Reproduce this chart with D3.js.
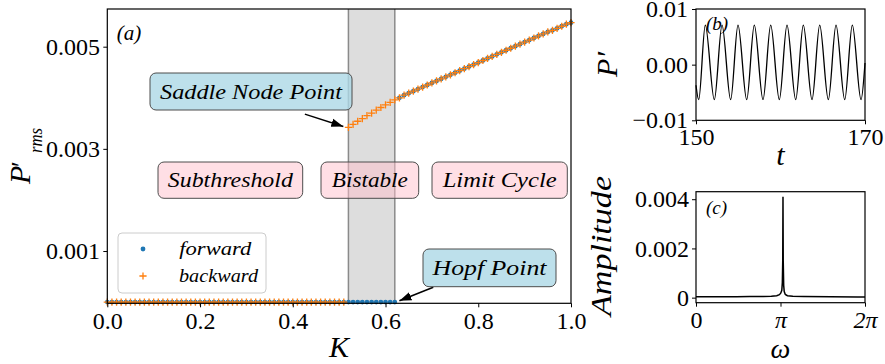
<!DOCTYPE html>
<html><head><meta charset="utf-8">
<script src="https://cdn.jsdelivr.net/npm/d3@7"></script>
<style>
@font-face{font-family:"LSerifX";font-style:normal;font-weight:400;src:local("Liberation Serif"),local("LiberationSerif"),local("LiberationSerif-Regular"),local("Tinos"),local("DejaVu Serif");}
@font-face{font-family:"LSerifX";font-style:italic;font-weight:400;src:local("Liberation Serif Italic"),local("LiberationSerif-Italic"),local("Tinos Italic"),local("DejaVu Serif Italic");}
body{margin:0;background:#fff}
svg{display:block}
svg text{font-family:"Liberation Serif","LSerifX","Tinos","DejaVu Serif",serif;}
</style>
</head><body><svg id="c" width="885" height="364"></svg>
<script>
// ---------------- DATA ----------------
const K = [0.00,0.01,0.02,0.03,0.04,0.05,0.06,0.07,0.08,0.09,0.10,0.11,0.12,0.13,0.14,0.15,0.16,0.17,0.18,0.19,
0.20,0.21,0.22,0.23,0.24,0.25,0.26,0.27,0.28,0.29,0.30,0.31,0.32,0.33,0.34,0.35,0.36,0.37,0.38,0.39,
0.40,0.41,0.42,0.43,0.44,0.45,0.46,0.47,0.48,0.49,0.50,0.51,0.52,0.53,0.54,0.55,0.56,0.57,0.58,0.59,
0.60,0.61,0.62,0.63,0.64,0.65,0.66,0.67,0.68,0.69,0.70,0.71,0.72,0.73,0.74,0.75,0.76,0.77,0.78,0.79,
0.80,0.81,0.82,0.83,0.84,0.85,0.86,0.87,0.88,0.89,0.90,0.91,0.92,0.93,0.94,0.95,0.96,0.97,0.98,0.99,1.00];
// forward sweep: zero up to K=0.62, limit cycle from K=0.63
const forward = [0,0,0,0,0,0,0,0,0,0,0,0,0,0,0,0,0,0,0,0,
0,0,0,0,0,0,0,0,0,0,0,0,0,0,0,0,0,0,0,0,
0,0,0,0,0,0,0,0,0,0,0,0,0,0,0,0,0,0,0,0,
0,0,0,0.00400,0.00405,0.00409,0.00413,0.00417,0.00421,0.00425,0.00429,0.00433,0.00437,0.00441,0.00445,0.00449,0.00453,0.00457,0.00461,0.00465,
0.00469,0.00473,0.00477,0.00481,0.00485,0.00489,0.00493,0.00497,0.00501,0.00505,0.00509,0.00513,0.00517,0.00521,0.00525,0.00529,0.00532,0.00536,0.00540,0.00544,0.00547];
// backward sweep: limit cycle down to K=0.52, zero below
const backward = [0,0,0,0,0,0,0,0,0,0,0,0,0,0,0,0,0,0,0,0,
0,0,0,0,0,0,0,0,0,0,0,0,0,0,0,0,0,0,0,0,
0,0,0,0,0,0,0,0,0,0,0,0,0.00342,0.00348,0.00354,0.00359,0.00365,0.00370,0.00376,0.00381,
0.00386,0.00391,0.00396,0.00400,0.00405,0.00409,0.00413,0.00417,0.00421,0.00425,0.00429,0.00433,0.00437,0.00441,0.00445,0.00449,0.00453,0.00457,0.00461,0.00465,
0.00469,0.00473,0.00477,0.00481,0.00485,0.00489,0.00493,0.00497,0.00501,0.00505,0.00509,0.00513,0.00517,0.00521,0.00525,0.00529,0.00532,0.00536,0.00540,0.00544,0.00547];
const bistableBand = [0.52, 0.62];
const xTicksA = [0.0,0.2,0.4,0.6,0.8,1.0];
const yTicksA = [0.001,0.003,0.005];

// panel (b): time trace, extrema
const tB = [150.00,150.32,151.10,152.17,153.08,154.10,154.97,156.00,156.90,157.93,158.84,159.86,160.77,161.80,162.70,163.73,164.64,165.66,166.57,167.60,168.50,169.53,170.00];
const pB = [-0.0037,-0.0063,0.0071,-0.0063,0.0071,-0.0063,0.0071,-0.0063,0.0071,-0.0063,0.0071,-0.0063,0.0071,-0.0063,0.0071,-0.0063,0.0071,-0.0063,0.0071,-0.0063,0.0071,-0.0063,0.0003];
const xTicksB = [150,170];
const yTicksB = [-0.01,0.00,0.01];
const yLabelsB = ["\u22120.01","0.00","0.01"];

// panel (c): spectrum
const wC = [0,0.5,1.0,1.5,2.0,2.5,2.8,3.0,3.1,3.15,3.19,3.21,3.225,3.234,3.243,3.26,3.28,3.32,3.4,3.6,4.0,5.0,6.0,6.2832];
const aC = [0.00004,0.00004,0.00004,0.00004,0.00005,0.00005,0.00006,0.00008,0.00012,0.00018,0.0003,0.0006,0.0015,0.0041,0.0015,0.0005,0.00025,0.00013,0.00008,0.00006,0.00005,0.00004,0.00003,0.00003];
const xTicksC = [0, Math.PI, 2*Math.PI];
const xLabelsC = ["0","\u03c0","2\u03c0"];
const yTicksC = [0,0.002,0.004];
const yLabelsC = ["0","0.002","0.004"];

// ---------------- DRAW ----------------
const svg = d3.select('#c');
const TICKFS = 24;

function styleAxis(g){
  g.attr('font-family',null).attr('font-size',null);
  g.select('.domain').remove();
  g.selectAll('line').attr('stroke','#000').attr('stroke-width',1);
  g.selectAll('text').attr('font-size',TICKFS).attr('fill','#000');
}
function T(sel,opts,ital){
  const t = sel.append('text');
  for (const k in opts) t.attr(k,opts[k]);
  if (ital) t.attr('font-style','italic');
  return t;
}

// ---- panel (a)
const xA = d3.scaleLinear([0,1],[107.3,571]);
const yA = d3.scaleLinear([-0.0000235,0.005738],[303.3,9]);

svg.append('rect').attr('x',xA(bistableBand[0])).attr('y',yA.range()[1])
  .attr('width',xA(bistableBand[1])-xA(bistableBand[0])).attr('height',yA.range()[0]-yA.range()[1])
  .attr('fill','#dddddd');
bistableBand.forEach(k=>svg.append('line').attr('x1',xA(k)).attr('x2',xA(k))
  .attr('y1',yA.range()[1]).attr('y2',yA.range()[0]).attr('stroke','#8a8a8a').attr('stroke-width',1.5));

svg.append('g').selectAll('circle').data(K.map((k,i)=>[k,forward[i]])).join('circle')
  .attr('cx',d=>xA(d[0])).attr('cy',d=>yA(d[1])).attr('r',2.4).attr('fill','#1f77b4');
svg.append('g').selectAll('path').data(K.map((k,i)=>[k,backward[i]])).join('path')
  .attr('transform',d=>`translate(${xA(d[0])},${yA(d[1])})`)
  .attr('d','M-3.6,0H3.6M0,-3.6V3.6').attr('stroke','#ff7f0e').attr('stroke-width',1.3).attr('fill','none');

svg.append('g').attr('transform','translate(0,303.3)')
  .call(d3.axisBottom(xA).tickValues(xTicksA).tickFormat(d3.format('.1f')).tickSize(4).tickPadding(4.5)).call(styleAxis);
svg.append('g').attr('transform','translate(107.3,0)')
  .call(d3.axisLeft(yA).tickValues(yTicksA).tickFormat(d3.format('.3f')).tickSize(4).tickPadding(3.3)).call(styleAxis);

// arrows
const defs = svg.append('defs');
defs.append('marker').attr('id','ah').attr('viewBox','0 -5 12 10').attr('refX',12).attr('refY',0)
  .attr('markerWidth',12).attr('markerHeight',10).attr('markerUnits','userSpaceOnUse').attr('orient','auto')
  .append('path').attr('d','M0,-4.2L12,0L0,4.2Z').attr('fill','#000');
function arrow(k0,p0,k1,p1){
  svg.append('line').attr('x1',xA(k0)).attr('y1',yA(p0)).attr('x2',xA(k1)).attr('y2',yA(p1))
    .attr('stroke','#000').attr('stroke-width',1.5).attr('marker-end','url(#ah)');
}
arrow(0.426,0.00368,0.509,0.003437);
arrow(0.703,0.00029,0.63,0.0000275);

// annotation boxes
function box(x0,y0,x1,y1,fill,op,label,tw){
  svg.append('rect').attr('x',x0).attr('y',y0).attr('width',x1-x0).attr('height',y1-y0)
    .attr('rx',6).attr('fill',fill).attr('fill-opacity',op).attr('stroke','#4d4d4d').attr('stroke-width',1);
  T(svg,{x:(x0+x1)/2,y:(y0+y1)/2,dy:'0.33em','text-anchor':'middle','font-size':22,
    textLength:tw,lengthAdjust:'spacingAndGlyphs'},1).text(label);
}
box(150,73,352,110,'#add8e6',0.8,'Saddle Node Point',182);
box(158,162,302.7,198.3,'#ffc0cb',0.5,'Subthreshold',125);
box(321,162,418.7,198.3,'#ffc0cb',0.5,'Bistable',76);
box(432,162,567.3,198.3,'#ffc0cb',0.5,'Limit Cycle',114);
box(423,249,556,286.7,'#add8e6',0.8,'Hopf Point',114);

// legend
svg.append('rect').attr('x',118).attr('y',233).attr('width',148).attr('height',60).attr('rx',4)
  .attr('fill','#fff').attr('fill-opacity',0.8).attr('stroke','#cccccc').attr('stroke-width',1);
svg.append('circle').attr('cx',143).attr('cy',249).attr('r',2.4).attr('fill','#1f77b4');
svg.append('path').attr('transform','translate(143,276)').attr('d','M-3.6,0H3.6M0,-3.6V3.6')
  .attr('stroke','#ff7f0e').attr('stroke-width',1.3);
T(svg,{x:179.3,y:255,'font-size':19,textLength:72,lengthAdjust:'spacingAndGlyphs'},1).text('forward');
T(svg,{x:179,y:282,'font-size':19,textLength:79,lengthAdjust:'spacingAndGlyphs'},1).text('backward');

T(svg,{x:116.7,y:40,'font-size':21},1).text('(a)');

svg.append('rect').attr('x',107.3).attr('y',9).attr('width',463.7).attr('height',294.3)
  .attr('fill','none').attr('stroke','#000').attr('stroke-width',1.2);

// axis labels (a)
T(svg,{x:339,y:356.5,'text-anchor':'middle','font-size':30},1).text('K');
T(svg,{transform:'translate(30,184) rotate(-90)','font-size':30},1).text('P');
T(svg,{transform:'translate(30,167) rotate(-90)','font-size':27}).text('\u2032');
T(svg,{transform:'translate(42,153) rotate(-90)','font-size':19,textLength:25,lengthAdjust:'spacingAndGlyphs'},1).text('rms');

// ---- panel (b)
const xB = d3.scaleLinear([150,170],[696,865]);
const yB = d3.scaleLinear([-0.01,0.01],[120.3,9]);
svg.append('path').datum(tB.map((t,i)=>[t,pB[i]]))
  .attr('d',d3.line().x(d=>xB(d[0])).y(d=>yB(d[1])).curve(d3.curveMonotoneX))
  .attr('fill','none').attr('stroke','#000').attr('stroke-width',1.3);
svg.append('g').attr('transform','translate(0,120.3)')
  .call(d3.axisBottom(xB).tickValues(xTicksB).tickFormat(d3.format('d')).tickSize(4).tickPadding(4)).call(styleAxis);
svg.append('g').attr('transform','translate(696,0)')
  .call(d3.axisLeft(yB).tickValues(yTicksB).tickFormat((d,i)=>yLabelsB[i]).tickSize(4).tickPadding(4)).call(styleAxis);
svg.append('rect').attr('x',696).attr('y',9).attr('width',169).attr('height',111.3)
  .attr('fill','none').attr('stroke','#000').attr('stroke-width',1.2);
T(svg,{x:706,y:30,'font-size':19},1).text('(b)');
T(svg,{x:780.5,y:165,'text-anchor':'middle','font-size':30},1).text('t');
T(svg,{transform:'translate(617,64.5) rotate(-90)','text-anchor':'middle','font-size':30},1).text('P\u2032');

// ---- panel (c)
const xC = d3.scaleLinear([0,2*Math.PI],[696,865]);
const yC = d3.scaleLinear([-0.000205,0.004305],[302.7,191.7]);
svg.append('path').datum(wC.map((w,i)=>[w,aC[i]]))
  .attr('d',d3.line().x(d=>xC(d[0])).y(d=>yC(d[1])))
  .attr('fill','none').attr('stroke','#000').attr('stroke-width',1.5);
svg.append('g').attr('transform','translate(0,302.7)')
  .call(d3.axisBottom(xC).tickValues(xTicksC).tickFormat((d,i)=>xLabelsC[i]).tickSize(4).tickPadding(4)).call(styleAxis)
  .selectAll('text').attr('font-style',(d,i)=>i>0?'italic':'normal');
svg.append('g').attr('transform','translate(696,0)')
  .call(d3.axisLeft(yC).tickValues(yTicksC).tickFormat((d,i)=>yLabelsC[i]).tickSize(4).tickPadding(3)).call(styleAxis);
svg.append('rect').attr('x',696).attr('y',191.7).attr('width',169).attr('height',111)
  .attr('fill','none').attr('stroke','#000').attr('stroke-width',1.2);
T(svg,{x:706,y:214,'font-size':19},1).text('(c)');
T(svg,{x:780.5,y:358,'text-anchor':'middle','font-size':28},1).text('\u03c9');
T(svg,{transform:'translate(611,246) rotate(-90)','text-anchor':'middle','font-size':30,
  textLength:140,lengthAdjust:'spacingAndGlyphs'},1).text('Amplitude');
</script></body></html>
